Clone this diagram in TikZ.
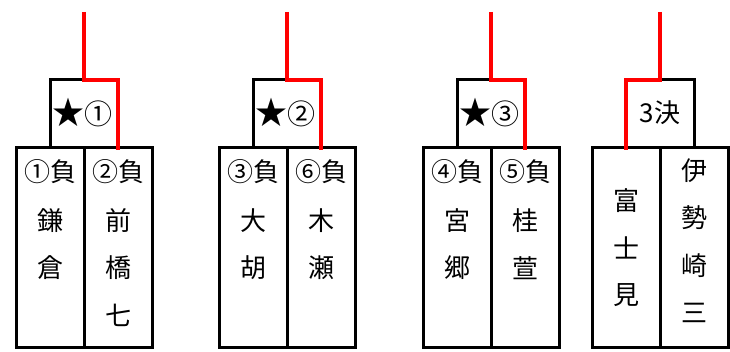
\documentclass[tikz,border=0pt]{standalone}
\usepackage{fontspec}
\setmainfont{Noto Sans CJK JP}
\newcommand{\bigstar}{{\fontsize{32}{30}\selectfont ★}}
\newcommand{\smallnum}[1]{{\fontsize{28}{30}\selectfont #1}}
\begin{document}
\begin{tikzpicture}[x=1pt,y=-1pt,
  col/.style={draw=black,line width=3pt,minimum width=68pt,minimum height=199pt,anchor=north west,inner sep=0pt,outer sep=0pt},
  topbox/.style={draw=black,line width=3pt,minimum width=68pt,minimum height=68pt,anchor=north west,inner sep=0pt,outer sep=0pt},
  txt/.style={inner sep=0pt,font=\fontsize{26}{30}\selectfont},
  win/.style={draw={rgb,255:red,255;green,0;blue,0},line width=4pt}]
\useasboundingbox (0,0) rectangle (730,352);
% group 1
\node[topbox] (t1) at (50,80) {};
\node[col] (g1a) at (16,148) {};
\node[col] (g1b) at (84,148) {};
\node[txt] (s1) at (82,113) {\bigstar\smallnum{①}};
\node[txt] (g1a1) at (50,172) {①負};
\node[txt] (g1a2) at (50,221) {鎌};
\node[txt] (g1a3) at (50,268) {倉};
\node[txt] (g1b1) at (118,172) {②負};
\node[txt] (g1b2) at (118,221) {前};
\node[txt] (g1b3) at (118,268) {橋};
\node[txt] (g1b4) at (118,315) {七};
\coordinate (w1) at (84,12);
\draw[win] (w1) -- (t1.north) -- (t1.north east) -- ([yshift=-2pt]g1b.north);
% group 2
\node[topbox] (t2) at (253,80) {};
\node[col] (g2a) at (219,148) {};
\node[col] (g2b) at (287,148) {};
\node[txt] (s2) at (285,113) {\bigstar\smallnum{②}};
\node[txt] (g2a1) at (253,172) {③負};
\node[txt] (g2a2) at (253,221) {大};
\node[txt] (g2a3) at (253,268) {胡};
\node[txt] (g2b1) at (321,172) {⑥負};
\node[txt] (g2b2) at (321,221) {木};
\node[txt] (g2b3) at (321,268) {瀬};
\coordinate (w2) at (287,12);
\draw[win] (w2) -- (t2.north) -- (t2.north east) -- ([yshift=-2pt]g2b.north);
% group 3
\node[topbox] (t3) at (457,80) {};
\node[col] (g3a) at (423,148) {};
\node[col] (g3b) at (491,148) {};
\node[txt] (s3) at (489,113) {\bigstar\smallnum{③}};
\node[txt] (g3a1) at (457,172) {④負};
\node[txt] (g3a2) at (457,221) {宮};
\node[txt] (g3a3) at (457,268) {郷};
\node[txt] (g3b1) at (525,172) {⑤負};
\node[txt] (g3b2) at (525,221) {桂};
\node[txt] (g3b3) at (525,268) {萱};
\coordinate (w3) at (491,12);
\draw[win] (w3) -- (t3.north) -- (t3.north east) -- ([yshift=-2pt]g3b.north);
% group 4
\node[topbox] (t4) at (626,80) {};
\node[col] (g4a) at (592,148) {};
\node[col] (g4b) at (660,148) {};
\node[txt] (s4) at (660,113) {3決};
\node[txt] (g4a1) at (626,201) {富};
\node[txt] (g4a2) at (626,248) {士};
\node[txt] (g4a3) at (626,295) {見};
\node[txt] (g4b1) at (694,171) {伊};
\node[txt] (g4b2) at (694,218) {勢};
\node[txt] (g4b3) at (694,266) {崎};
\node[txt] (g4b4) at (694,313) {三};
\coordinate (w4) at (660,12);
\draw[win] (w4) -- (t4.north) -- (t4.north west) -- ([yshift=-2pt]g4a.north);
\end{tikzpicture}
\end{document}
